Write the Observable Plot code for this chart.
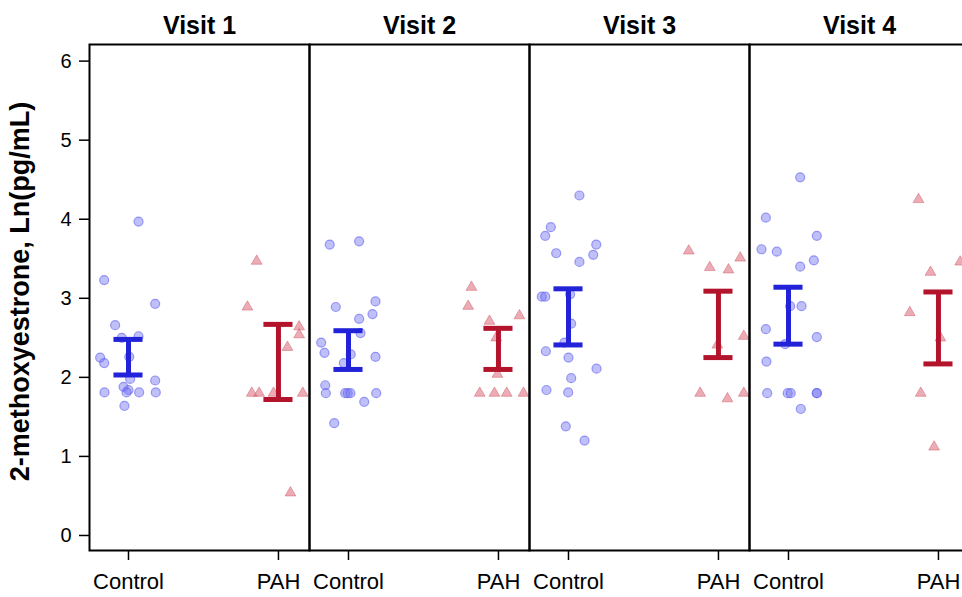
<!DOCTYPE html>
<html>
<head>
<meta charset="utf-8">
<script src="https://cdn.jsdelivr.net/npm/d3@7"></script>
<script src="https://cdn.jsdelivr.net/npm/@observablehq/plot@0.6"></script>
<style>
  html, body { margin: 0; padding: 0; background: #fff; overflow: hidden; }
  #chart { width: 962px; overflow: hidden; }
  #chart svg { display: block; max-width: none !important; }
</style>
</head>
<body>
<div id="chart"></div>
<script>
// ---- data ----
const visits = ["Visit 1", "Visit 2", "Visit 3", "Visit 4"];
const groups = ["Control", "PAH"];
const yTicks = [0, 1, 2, 3, 4, 5, 6];
const yLabel = "2-methoxyestrone, Ln(pg/mL)";

// Control values per visit and horizontal jitter (in category units)
const controlValues = [
  [3.97, 3.23, 2.93, 2.66, 2.50, 2.52, 2.25, 2.18, 2.26, 1.98, 1.96, 1.88, 1.84, 1.81, 1.81, 1.81, 1.64, 1.81],
  [3.68, 3.72, 2.89, 2.96, 2.80, 2.74, 2.56, 2.44, 2.31, 2.29, 2.18, 2.26, 1.90, 1.80, 1.80, 1.80, 1.80, 1.80, 1.69, 1.42],
  [4.30, 3.90, 3.79, 3.68, 3.57, 3.55, 3.46, 3.02, 3.02, 3.05, 2.68, 2.44, 2.33, 2.25, 2.11, 1.99, 1.84, 1.81, 1.38, 1.20],
  [4.53, 4.02, 3.79, 3.62, 3.59, 3.48, 3.40, 2.90, 2.90, 2.61, 2.51, 2.42, 2.20, 1.80, 1.80, 1.80, 1.80, 1.80, 1.60]
];
const controlJitter = [
  [0.067, -0.162, 0.178, -0.089, -0.045, 0.067, -0.189, -0.162, 0.005, 0.011, 0.178, -0.033, 0.0, -0.16, 0.071, 0.182, -0.027, -0.013],
  [-0.125, 0.071, -0.085, 0.18, 0.16, 0.071, 0.08, -0.182, -0.16, 0.015, -0.031, 0.18, -0.155, -0.151, -0.022, -0.005, 0.013, 0.185, 0.105, -0.095],
  [0.073, -0.118, -0.155, 0.185, -0.082, 0.165, 0.073, -0.178, -0.155, 0.011, 0.018, -0.027, -0.151, 0.0, 0.187, 0.018, -0.147, -0.002, -0.018, 0.107],
  [0.078, -0.151, 0.189, -0.18, -0.078, 0.169, 0.078, 0.011, 0.087, -0.151, 0.189, -0.022, -0.147, -0.142, -0.005, 0.015, 0.189, 0.189, 0.082]
];
// PAH values per visit and jitter
const pahValues = [
  [3.47, 2.89, 2.64, 2.54, 2.38, 1.80, 1.80, 1.80, 1.80, 0.54],
  [3.14, 2.90, 2.71, 2.78, 2.50, 2.04, 1.80, 1.80, 1.80, 1.80],
  [3.60, 3.51, 3.39, 3.36, 2.52, 2.41, 1.80, 1.73, 1.80],
  [4.25, 3.46, 3.33, 2.82, 2.50, 1.80, 1.12]
];
const pahJitter = [
  [-0.145, -0.207, 0.138, 0.138, 0.06, -0.178, -0.129, -0.033, 0.162, 0.08],
  [-0.18, -0.202, -0.06, 0.14, -0.015, -0.007, -0.125, -0.027, 0.055, 0.167],
  [-0.198, 0.145, -0.058, 0.067, 0.169, -0.007, -0.122, 0.06, 0.169],
  [-0.133, 0.145, -0.053, -0.191, 0.013, -0.118, -0.029]
];
// error bar limits
const controlLower = [2.03, 2.10, 2.41, 2.42];
const controlUpper = [2.48, 2.59, 3.12, 3.14];
const pahLower = [1.72, 2.10, 2.25, 2.17];
const pahUpper = [2.67, 2.62, 3.09, 3.08];

// ---- build tables ----
const points = [];
visits.forEach((v, i) => {
  controlValues[i].forEach((y, j) => points.push({visit: v, group: "Control", pos: 0 + controlJitter[i][j], y}));
  pahValues[i].forEach((y, j) => points.push({visit: v, group: "PAH", pos: 1 + pahJitter[i][j], y}));
});
const bars = visits.flatMap((v, i) => [
  {visit: v, group: "Control", pos: 0, lo: controlLower[i], hi: controlUpper[i]},
  {visit: v, group: "PAH", pos: 1, lo: pahLower[i], hi: pahUpper[i]}
]);
const capHalf = 0.097;
const labelRow = [{visit: visits[0], t: yLabel}];

const barColor = {Control: "#2222d8", PAH: "#b3142c"};

const chart = Plot.plot({
  width: 969,
  height: 597,
  marginLeft: 89,
  marginRight: 0,
  marginTop: 44,
  marginBottom: 47,
  style: {fontFamily: "'Liberation Sans', Arial, sans-serif", color: "black", background: "white", maxWidth: "none"},
  fx: {domain: visits, padding: 0, axis: null},
  x: {domain: [-0.26, 1.207], axis: null},
  y: {domain: [-0.19, 6.21], axis: null},
  marks: [
    Plot.dot(points.filter(d => d.group === "Control"), {
      fx: "visit", x: "pos", y: "y", r: 4.5, symbol: "circle",
      fill: "#7373f2", fillOpacity: 0.45, stroke: "#6060ee", strokeOpacity: 0.6, strokeWidth: 1.2
    }),
    Plot.dot(points.filter(d => d.group === "PAH"), {
      fx: "visit", x: "pos", y: "y", r: 4, symbol: "triangle",
      fill: "#e07583", fillOpacity: 0.6, stroke: "#d0606e", strokeOpacity: 0.5, strokeWidth: 1
    }),
    Plot.ruleX(bars, {fx: "visit", x: "pos", y1: "lo", y2: "hi", stroke: d => barColor[d.group], strokeWidth: 5}),
    Plot.ruleY(bars, {fx: "visit", y: "lo", x1: d => d.pos - capHalf, x2: d => d.pos + capHalf, stroke: d => barColor[d.group], strokeWidth: 5}),
    Plot.ruleY(bars, {fx: "visit", y: "hi", x1: d => d.pos - capHalf, x2: d => d.pos + capHalf, stroke: d => barColor[d.group], strokeWidth: 5}),
    Plot.frame({stroke: "black", strokeWidth: 2}),
    Plot.axisFx({anchor: "top", label: null, tickSize: 0, tickPadding: 11, fontSize: 25, fontWeight: "bold"}),
    Plot.axisX({ticks: [0, 1], tickFormat: i => groups[i], tickSize: 10, tickPadding: 13, fontSize: 22, label: null, strokeWidth: 1.5}),
    Plot.axisY({ticks: yTicks, tickFormat: d => String(d), tickSize: 10, tickPadding: 8, fontSize: 20, label: null, strokeWidth: 1.5}),
    Plot.text(labelRow, {fx: "visit", text: "t", frameAnchor: "left", rotate: -90, dx: -69, dy: -6, fontSize: 27, fontWeight: "bold", textAnchor: "middle"})
  ]
});
document.getElementById("chart").appendChild(chart);
</script>
</body>
</html>
